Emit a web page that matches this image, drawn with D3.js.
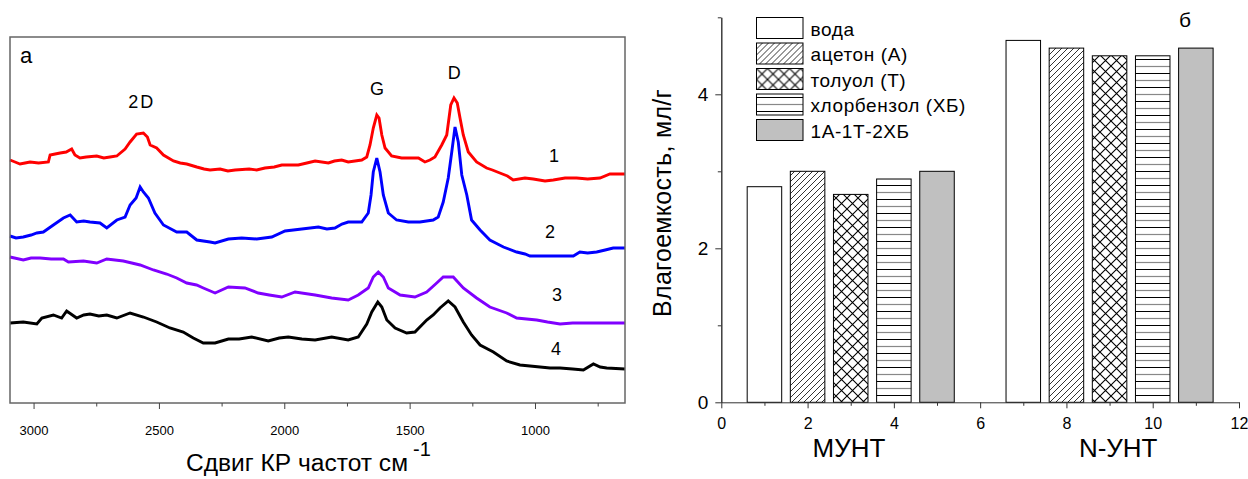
<!DOCTYPE html>
<html>
<head>
<meta charset="utf-8">
<script src="https://cdn.jsdelivr.net/npm/d3@7"></script>
<style>
  body { margin: 0; background: #fff; }
  text { font-family: Arial, "Liberation Sans", sans-serif; fill: #000; }
</style>
</head>
<body>
<svg id="chart" width="1248" height="479"></svg>
<script>
// ---- panel a: Raman spectra, [wavenumber, intensity (a.u.)]
const spec1 = [[3094,243],[3074,241],[3054,239],[3034,240],[3014,241],[2980,240],[2941,241],[2934,248],[2914,249],[2894,250],[2870,251],[2848,254],[2835,248],[2815,245],[2790,246],[2748,247],[2720,245],[2695,246],[2668,247],[2635,254],[2615,261],[2589,269],[2562,270],[2546,266],[2535,258],[2509,255],[2482,248],[2442,242],[2415,240],[2389,239],[2349,236],[2320,234],[2296,233],[2256,234],[2225,232],[2196,233],[2140,234],[2110,233],[2077,235],[2040,236],[2010,238],[1944,238],[1910,240],[1877,242],[1824,240],[1800,242],[1771,243],[1745,241],[1691,243],[1671,246],[1658,258],[1645,275],[1631,288],[1622,285],[1611,268],[1598,255],[1572,247],[1532,245],[1465,245],[1439,241],[1419,243],[1399,246],[1372,258],[1352,268],[1336,298],[1323,305],[1310,300],[1299,285],[1286,268],[1266,251],[1233,241],[1193,235],[1170,233],[1140,230],[1110,227],[1087,223],[1040,225],[1007,224],[960,222],[927,223],[880,225],[834,225],[790,224],[741,225],[701,229],[641,229]];
const spec2 = [[3094,167],[3070,165],[3041,166],[3010,168],[2987,170],[2961,171],[2921,178],[2881,185],[2854,188],[2828,181],[2800,182],[2775,181],[2735,180],[2708,175],[2668,183],[2635,186],[2615,198],[2591,205],[2575,216],[2562,211],[2542,205],[2516,190],[2482,178],[2429,171],[2389,171],[2349,163],[2296,161],[2276,160],[2223,164],[2170,165],[2110,164],[2050,166],[1997,172],[1930,174],[1864,176],[1830,174],[1798,175],[1770,179],[1745,181],[1691,181],[1665,190],[1654,208],[1645,231],[1631,245],[1618,231],[1605,208],[1585,190],[1552,183],[1505,181],[1459,181],[1406,183],[1386,186],[1366,201],[1346,225],[1332,251],[1319,276],[1306,261],[1292,228],[1272,208],[1253,183],[1219,173],[1180,163],[1126,156],[1073,151],[1040,149],[1020,147],[927,147],[847,147],[821,151],[790,150],[754,151],[720,153],[688,155],[641,155]];
const spec3 = [[3094,146],[3041,143],[3010,145],[2974,145],[2930,144],[2881,144],[2861,141],[2801,142],[2748,140],[2708,144],[2642,142],[2575,138],[2522,133],[2469,129],[2429,125],[2389,120],[2350,118],[2323,115],[2276,110],[2223,116],[2157,115],[2104,110],[2060,108],[2010,106],[1957,111],[1877,108],[1811,105],[1745,103],[1705,108],[1665,115],[1645,126],[1625,131],[1605,126],[1585,115],[1538,108],[1479,106],[1432,111],[1392,120],[1366,126],[1326,126],[1286,115],[1233,105],[1180,96],[1113,90],[1073,85],[993,83],[950,81],[900,79],[850,80],[794,80],[720,80],[641,80]];
const spec4 = [[3094,80],[3041,81],[2987,79],[2967,85],[2921,88],[2888,85],[2868,92],[2828,85],[2800,88],[2775,89],[2740,87],[2708,88],[2668,85],[2615,90],[2562,86],[2509,81],[2456,75],[2403,71],[2363,65],[2323,60],[2276,60],[2223,64],[2180,64],[2130,66],[2064,62],[2020,65],[1984,66],[1930,64],[1877,63],[1811,66],[1745,63],[1705,66],[1671,79],[1651,91],[1627,101],[1611,96],[1591,83],[1558,75],[1512,70],[1479,71],[1432,83],[1406,88],[1379,95],[1346,102],[1319,96],[1286,81],[1253,68],[1219,58],[1166,51],[1113,42],[1060,38],[1020,37],[980,36],[940,35],[900,35],[850,34],[807,33],[767,39],[740,36],[714,35],[641,34]];
const specColors = ["#ff0000", "#0000ff", "#8000ff", "#000000"];
const specLabels = ["1", "2", "3", "4"];
const wnTicks = [3000, 2500, 2000, 1500, 1000];
const wnMinor = [2750, 2250, 1750, 1250, 750];
const peaks = [["2D", 2568], ["G", 1630], ["D", 1322]];

// ---- panel б: water / solvent uptake
const solvents = ["вода", "ацетон (А)", "толуол (Т)", "хлорбензол (ХБ)", "1А-1Т-2ХБ"];
const muntX = [1, 2, 3, 4, 5];
const muntVals = [2.8, 3.0, 2.7, 2.9, 3.0];
const nuntX = [7, 8, 9, 10, 11];
const nuntVals = [4.7, 4.6, 4.5, 4.5, 4.6];
const groupLabels = [["МУНТ", 2.96], ["N-УНТ", 9.2]];

const svg = d3.select("#chart");
svg.append("rect").attr("width", 1248).attr("height", 479).attr("fill", "#fff");

// patterns
const defs = svg.append("defs");
const pDiag = defs.append("pattern").attr("id", "diag").attr("patternUnits", "userSpaceOnUse")
  .attr("width", 6).attr("height", 6);
pDiag.append("rect").attr("width", 6).attr("height", 6).attr("fill", "#fff");
pDiag.append("path").attr("d", "M-1,1 L1,-1 M0,6 L6,0 M5,7 L7,5").attr("stroke", "#000").attr("stroke-width", 0.8);
const pCross = defs.append("pattern").attr("id", "cross").attr("patternUnits", "userSpaceOnUse")
  .attr("width", 11).attr("height", 11);
pCross.append("rect").attr("width", 11).attr("height", 11).attr("fill", "#fff");
pCross.append("path").attr("d", "M0,0 L11,11 M11,0 L0,11").attr("stroke", "#000").attr("stroke-width", 1.1);
const pHor = defs.append("pattern").attr("id", "hor").attr("patternUnits", "userSpaceOnUse")
  .attr("width", 14).attr("height", 14);
pHor.append("rect").attr("width", 14).attr("height", 14).attr("fill", "#fff");
pHor.append("path").attr("d", "M0,3.5 L14,3.5").attr("stroke", "#000").attr("stroke-width", 1);
pHor.append("path").attr("d", "M0,10.5 L14,10.5").attr("stroke", "#888").attr("stroke-width", 1.2);
const fills = ["#fff", "url(#diag)", "url(#cross)", "url(#hor)", "#c0c0c0"];

// ================= panel a =================
const xL = d3.scaleLinear().domain([3094, 641]).range([10, 625]);
const yL = d3.scaleLinear().domain([0, 366]).range([403, 37]);

const gA = svg.append("g");
const line = d3.line().x(d => xL(d[0])).y(d => yL(d[1]));
[spec1, spec2, spec3, spec4].forEach((s, i) => {
  gA.append("path").datum(s).attr("d", line)
    .attr("fill", "none").attr("stroke", specColors[i])
    .attr("stroke-width", 2.9).attr("stroke-linejoin", "miter");
});

gA.append("rect").attr("x", xL(3094)).attr("y", yL(366))
  .attr("width", xL(641) - xL(3094)).attr("height", yL(0) - yL(366))
  .attr("fill", "none").attr("stroke", "#666").attr("stroke-width", 1.5);

const axA = gA.append("g").attr("transform", "translate(0," + yL(0) + ")")
  .call(d3.axisBottom(xL).tickValues(wnTicks).tickSize(6).tickSizeOuter(0).tickPadding(17).tickFormat(d3.format("d")));
axA.select(".domain").remove();
axA.selectAll("line").attr("stroke", "#444");
axA.selectAll("text").style("font-size", "13px").attr("fill", "#000");
const axAm = gA.append("g").attr("transform", "translate(0," + yL(0) + ")")
  .call(d3.axisBottom(xL).tickValues(wnMinor).tickSize(3.5).tickSizeOuter(0).tickFormat(""));
axAm.select(".domain").remove();
axAm.selectAll("line").attr("stroke", "#444");

const title = gA.append("text").attr("x", 186).attr("y", 471)
  .style("font-size", "23px");
title.append("tspan").attr("textLength", 222).attr("lengthAdjust", "spacingAndGlyphs").text("Сдвиг КР частот см");
title.append("tspan").attr("x", 413).attr("dy", -15).style("font-size", "20px").text("-1");

gA.append("text").attr("x", 20).attr("y", 63).style("font-size", "22px").text("a");
const peakY = [108, 95, 79];
peaks.forEach((p, i) => {
  gA.append("text").attr("x", xL(p[1])).attr("y", peakY[i]).attr("text-anchor", "middle")
    .style("font-size", "18px").style("letter-spacing", i === 0 ? "2px" : "0px").text(p[0]);
});
const lblPos = [[554, 162], [550, 238], [557, 301], [556, 355]];
specLabels.forEach((t, i) => {
  gA.append("text").attr("x", lblPos[i][0]).attr("y", lblPos[i][1]).attr("text-anchor", "middle")
    .style("font-size", "18px").text(t);
});

// ================= panel б =================
const xR = d3.scaleLinear().domain([0, 12]).range([721.3, 1239]);
const yR = d3.scaleLinear().domain([0, 5]).range([402.3, 17.3]);
const gB = svg.append("g");
const bw = 0.4;

const bars = [];
muntX.forEach((x, i) => bars.push({x: x, v: muntVals[i], k: i}));
nuntX.forEach((x, i) => bars.push({x: x, v: nuntVals[i], k: i}));
gB.selectAll("rect.bar").data(bars).enter().append("rect")
  .attr("x", d => xR(d.x - bw)).attr("y", d => yR(d.v))
  .attr("width", d => xR(d.x + bw) - xR(d.x - bw)).attr("height", d => yR(0) - yR(d.v))
  .attr("fill", d => fills[d.k]).attr("stroke", "#000").attr("stroke-width", 1);

const axX = gB.append("g").attr("transform", "translate(0," + yR(0) + ")")
  .call(d3.axisBottom(xR).tickValues([0, 2, 4, 6, 8, 10, 12]).tickSize(6).tickSizeOuter(0).tickPadding(9).tickFormat(d3.format("d")));
axX.selectAll("text").style("font-size", "16px");
axX.selectAll("line, path").attr("stroke", "#333");
const axXm = gB.append("g").attr("transform", "translate(0," + yR(0) + ")")
  .call(d3.axisBottom(xR).tickValues([1, 3, 5, 7, 9, 11]).tickSize(3.5).tickSizeOuter(0).tickFormat(""));
axXm.select(".domain").remove();
axXm.selectAll("line").attr("stroke", "#333");

const axY = gB.append("g").attr("transform", "translate(" + xR(0) + ",0)")
  .call(d3.axisLeft(yR).tickValues([0, 2, 4]).tickSize(6).tickSizeOuter(0).tickPadding(7).tickFormat(d3.format("d")));
axY.selectAll("text").style("font-size", "19px");
axY.selectAll("line, path").attr("stroke", "#333");
const axYm = gB.append("g").attr("transform", "translate(" + xR(0) + ",0)")
  .call(d3.axisLeft(yR).tickValues([1, 3, 5]).tickSize(3.5).tickSizeOuter(0).tickFormat(""));
axYm.selectAll("line, path").attr("stroke", "#333");

gB.append("text").attr("transform", "translate(671,203) rotate(-90)").attr("text-anchor", "middle")
  .style("font-size", "25px").style("letter-spacing", "0.3px").text("Влагоемкость, мл/г");
groupLabels.forEach(g => {
  gB.append("text").attr("x", xR(g[1])).attr("y", 457).attr("text-anchor", "middle")
    .style("font-size", "26px").text(g[0]);
});
gB.append("text").attr("x", 1185).attr("y", 27).attr("text-anchor", "middle").style("font-size", "21px").text("б");

// legend
const leg = gB.append("g").attr("transform", "translate(756.5,17.5)");
solvents.forEach((s, i) => {
  const row = leg.append("g").attr("transform", "translate(0," + (i * 25.5) + ")");
  row.append("rect").attr("width", 46.5).attr("height", 21)
    .attr("fill", fills[i]).attr("stroke", "#000").attr("stroke-width", 1);
  row.append("text").attr("x", 54).attr("y", 18).style("font-size", "19px")
    .style("letter-spacing", "0.6px").text(s);
});
</script>
</body>
</html>
